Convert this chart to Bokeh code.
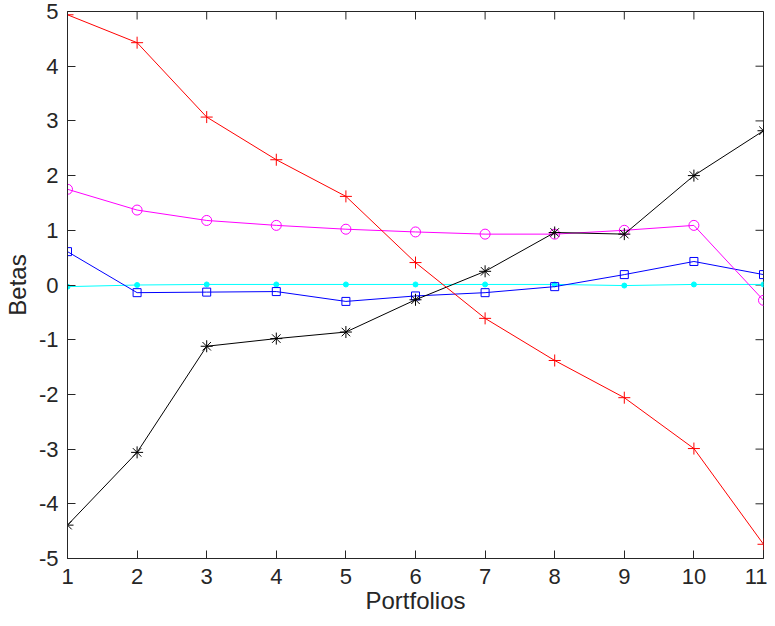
import math
from bokeh.plotting import figure
from bokeh.models import FixedTicker, Range1d
from bokeh.embed import file_html
from bokeh.resources import INLINE

portfolios = [1, 2, 3, 4, 5, 6, 7, 8, 9, 10, 11]
beta_red = [4.94, 4.43, 3.07, 2.29, 1.62, 0.41, -0.61, -1.38, -2.06, -2.99, -4.74]
beta_black = [-4.39, -3.06, -1.12, -0.98, -0.86, -0.27, 0.25, 0.96, 0.93, 2.00, 2.82]
beta_magenta = [1.75, 1.37, 1.18, 1.09, 1.02, 0.97, 0.93, 0.93, 1.00, 1.09, -0.28]
beta_blue = [0.61, -0.14, -0.13, -0.12, -0.30, -0.20, -0.14, -0.03, 0.19, 0.43, 0.19]
beta_cyan = [-0.03, 0.00, 0.01, 0.01, 0.01, 0.01, 0.01, 0.01, -0.01, 0.01, 0.01]
x_ticks = [1, 2, 3, 4, 5, 6, 7, 8, 9, 10, 11]
y_ticks = [-5, -4, -3, -2, -1, 0, 1, 2, 3, 4, 5]
y_tick_labels = ["-5", "-4", "-3", "-2", "-1", "0", "1", "2", "3", "4", "5"]

FONT = "Liberation Sans"
AX = "#262626"

p = figure(frame_width=696, frame_height=547, output_backend="svg", toolbar_location=None,
           x_range=Range1d(1, 11), y_range=Range1d(-5, 5),
           min_border_left=60, min_border_right=4, min_border_top=11, min_border_bottom=20,
           background_fill_color="white", border_fill_color="white")
p.grid.visible = False
p.outline_line_color = AX
p.outline_line_width = 1

for ax, ticks in ((p.xaxis[0], x_ticks), (p.yaxis[0], y_ticks)):
    ax.ticker = FixedTicker(ticks=ticks)
    ax.axis_line_color = AX
    ax.axis_line_width = 1
    ax.major_tick_line_color = AX
    ax.major_tick_in = 8
    ax.major_tick_out = 0
    ax.minor_tick_line_color = None
    ax.major_label_text_font = FONT
    ax.major_label_text_color = AX
    ax.major_label_text_font_size = "22px"
    ax.axis_label_text_font = FONT
    ax.axis_label_text_font_style = "normal"
    ax.axis_label_text_font_size = "24px"
    ax.axis_label_text_color = AX

p.yaxis[0].major_label_overrides = {t: s for t, s in zip(y_ticks, y_tick_labels)}
p.xaxis[0].major_label_standoff = 10
p.yaxis[0].major_label_standoff = 9
p.xaxis[0].axis_label = "Portfolios"
p.yaxis[0].axis_label = "Betas"
p.xaxis[0].axis_label_standoff = 0
p.yaxis[0].axis_label_standoff = 5

# box ticks on top and right edges (MATLAB "box on")
p.ray(x=x_ticks, y=[5] * len(x_ticks), length=8, length_units="screen",
      angle=-math.pi / 2, line_color=AX, line_width=1)
p.ray(x=[11] * len(y_ticks), y=y_ticks, length=8, length_units="screen",
      angle=math.pi, line_color=AX, line_width=1)

# series
p.line(portfolios, beta_cyan, line_color="#00ffff", line_width=1)
p.scatter(portfolios, beta_cyan, marker="circle", size=5, fill_color="#00ffff", line_color="#00ffff")

p.line(portfolios, beta_blue, line_color="#0000ff", line_width=1)
p.scatter(portfolios, beta_blue, marker="square", size=8, fill_color=None, line_color="#0000ff")

p.line(portfolios, beta_magenta, line_color="#ff00ff", line_width=1)
p.scatter(portfolios, beta_magenta, marker="circle", size=10, fill_color=None, line_color="#ff00ff")

p.line(portfolios, beta_black, line_color="#000000", line_width=1)
p.scatter(portfolios, beta_black, marker="asterisk", size=12, line_color="#000000")

p.line(portfolios, beta_red, line_color="#ff0000", line_width=1)
p.scatter(portfolios, beta_red, marker="cross", size=12, line_color="#ff0000")

open("out.html", "w").write(file_html(p, INLINE))
